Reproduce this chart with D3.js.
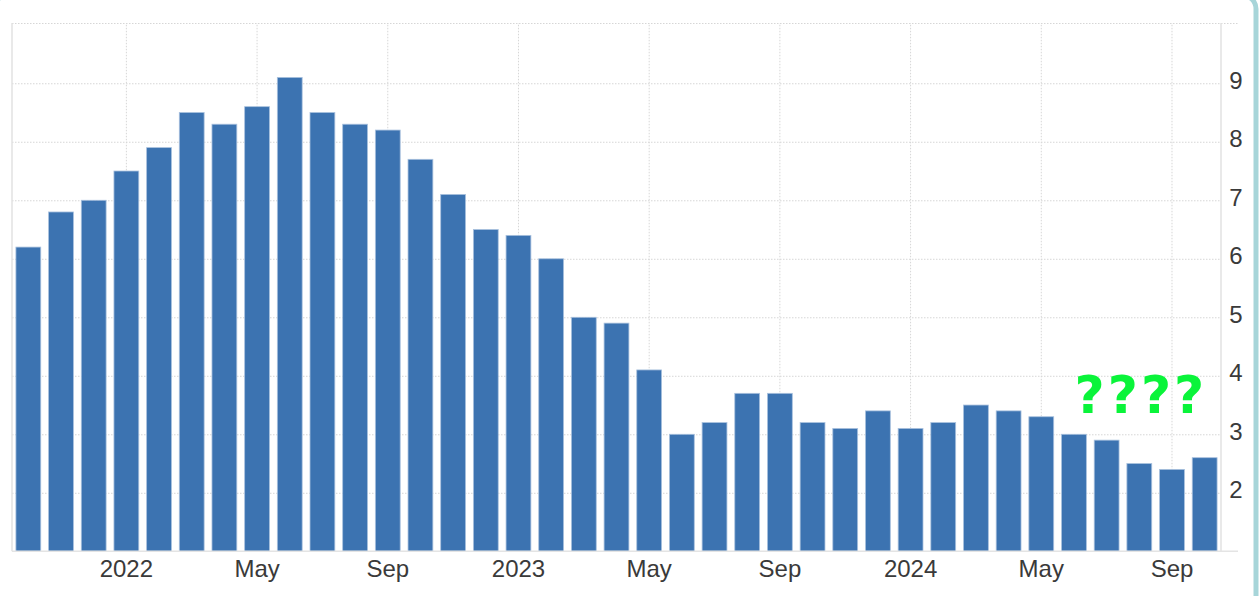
<!DOCTYPE html>
<html>
<head>
<meta charset="utf-8">
<script src="https://cdn.jsdelivr.net/npm/d3@7"></script>
<style>
  html, body { margin: 0; padding: 0; background: #fff; }
  svg { display: block; font-family: "Liberation Sans", Arial, sans-serif; }
</style>
</head>
<body>
<svg id="chart" width="1259" height="596"></svg>
<script>
// monthly values, Oct 2021 .. Oct 2024
var months = ['2021-10','2021-11','2021-12',
  '2022-01','2022-02','2022-03','2022-04','2022-05','2022-06','2022-07','2022-08','2022-09','2022-10','2022-11','2022-12',
  '2023-01','2023-02','2023-03','2023-04','2023-05','2023-06','2023-07','2023-08','2023-09','2023-10','2023-11','2023-12',
  '2024-01','2024-02','2024-03','2024-04','2024-05','2024-06','2024-07','2024-08','2024-09','2024-10'];
var values = [6.2, 6.8, 7.0,
  7.5, 7.9, 8.5, 8.3, 8.6, 9.1, 8.5, 8.3, 8.2, 7.7, 7.1, 6.5,
  6.4, 6.0, 5.0, 4.9, 4.1, 3.0, 3.2, 3.7, 3.7, 3.2, 3.1, 3.4,
  3.1, 3.2, 3.5, 3.4, 3.3, 3.0, 2.9, 2.5, 2.4, 2.6];
var xTickMonths = ['2022-01','2022-05','2022-09','2023-01','2023-05','2023-09','2024-01','2024-05','2024-09'];
var xTickLabels = ['2022','May','Sep','2023','May','Sep','2024','May','Sep'];
var yTicks = [2, 3, 4, 5, 6, 7, 8, 9];
var yDomain = [1, 10.03];
var note = '????';

(function(){
    'use strict';

    var left = 12, right = 1221, top = 23, bottom = 551.3, outer = 1238;
    var svg = d3.select('#chart');

    var x = d3.scaleBand().domain(months).range([left, right])
        .paddingInner(0.24).paddingOuter(0.12);
    var y = d3.scaleLinear().domain(yDomain).range([bottom, top]);

    var data = months.map(function (m, i) { return {month: m, value: values[i]}; });

    // horizontal dotted grid
    var yGrid = svg.append('g').attr('class', 'y-grid')
        .attr('transform', 'translate(' + left + ',0)')
        .call(d3.axisLeft(y).tickValues(yTicks.concat([yDomain[1]])).tickSize(-(right - left)).tickFormat(''));
    yGrid.select('.domain').remove();
    yGrid.selectAll('line').attr('stroke', '#d6d6d6').attr('stroke-dasharray', '1.5,1.5');
    yGrid.selectAll('.tick').filter(function (d) { return d === yDomain[1]; })
        .select('line').attr('x2', outer - left);

    // vertical dotted grid at label months
    var xGrid = svg.append('g').attr('class', 'x-grid')
        .attr('transform', 'translate(0,' + bottom + ')')
        .call(d3.axisBottom(x).tickValues(xTickMonths).tickSize(-(bottom - top)).tickFormat(''));
    xGrid.select('.domain').remove();
    xGrid.selectAll('line').attr('stroke', '#d6d6d6').attr('stroke-dasharray', '1.5,1.5');

    // frame lines
    svg.append('line').attr('x1', left).attr('x2', left).attr('y1', top).attr('y2', bottom)
        .attr('stroke', '#e2e2e2').attr('stroke-width', 1.5);
    svg.append('line').attr('x1', right).attr('x2', right).attr('y1', top).attr('y2', bottom)
        .attr('stroke', '#e2e2e2').attr('stroke-width', 1.5);

    // bars
    svg.append('g').attr('class', 'bars').selectAll('rect')
        .data(data).enter().append('rect')
        .attr('x', function (d) { return x(d.month); })
        .attr('width', x.bandwidth())
        .attr('y', function (d) { return y(d.value); })
        .attr('height', function (d) { return bottom - y(d.value); })
        .attr('fill', '#3c73b1')
        .attr('stroke', '#a9c1de').attr('stroke-width', 0.8);

    svg.append('line').attr('x1', left).attr('x2', outer).attr('y1', bottom).attr('y2', bottom)
        .attr('stroke', '#e4e4e4').attr('stroke-width', 1.5);

    // y labels on the right
    var yAxis = svg.append('g').attr('class', 'y-axis')
        .attr('transform', 'translate(' + right + ',0)')
        .call(d3.axisRight(y).tickValues(yTicks).tickSize(0).tickFormat(d3.format('d')));
    yAxis.select('.domain').remove();
    yAxis.selectAll('text')
        .attr('x', 15).attr('dy', '0.2em')
        .attr('text-anchor', 'middle')
        .style('font-size', '24px').style('font-family', '"Liberation Sans", Arial, sans-serif')
        .attr('fill', '#3a3a3a');

    // x labels
    var xAxis = svg.append('g').attr('class', 'x-axis')
        .attr('transform', 'translate(0,' + bottom + ')')
        .call(d3.axisBottom(x).tickValues(xTickMonths).tickSize(0)
            .tickFormat(function (d) { return xTickLabels[xTickMonths.indexOf(d)]; }));
    xAxis.select('.domain').remove();
    xAxis.selectAll('text')
        .attr('y', 0).attr('dy', '25.5px')
        .style('font-size', '24px').style('font-family', '"Liberation Sans", Arial, sans-serif')
        .attr('fill', '#3a3a3a');

    // annotation
    svg.append('text')
        .attr('x', x('2024-08') + 14)
        .attr('y', 413)
        .attr('text-anchor', 'middle')
        .style('font-family', '"DejaVu Sans", Verdana, sans-serif')
        .style('font-weight', 'bold').style('font-size', '52px')
        .attr('fill', '#0af43a')
        .attr('letter-spacing', '3px')
        .text(note);

    // card border
    svg.append('rect').attr('x', -6).attr('y', -5).attr('width', 1262).attr('height', 640)
        .attr('rx', 14).attr('fill', 'none').attr('stroke', '#a7d5d9').attr('stroke-width', 5);
})();
</script>
</body>
</html>
